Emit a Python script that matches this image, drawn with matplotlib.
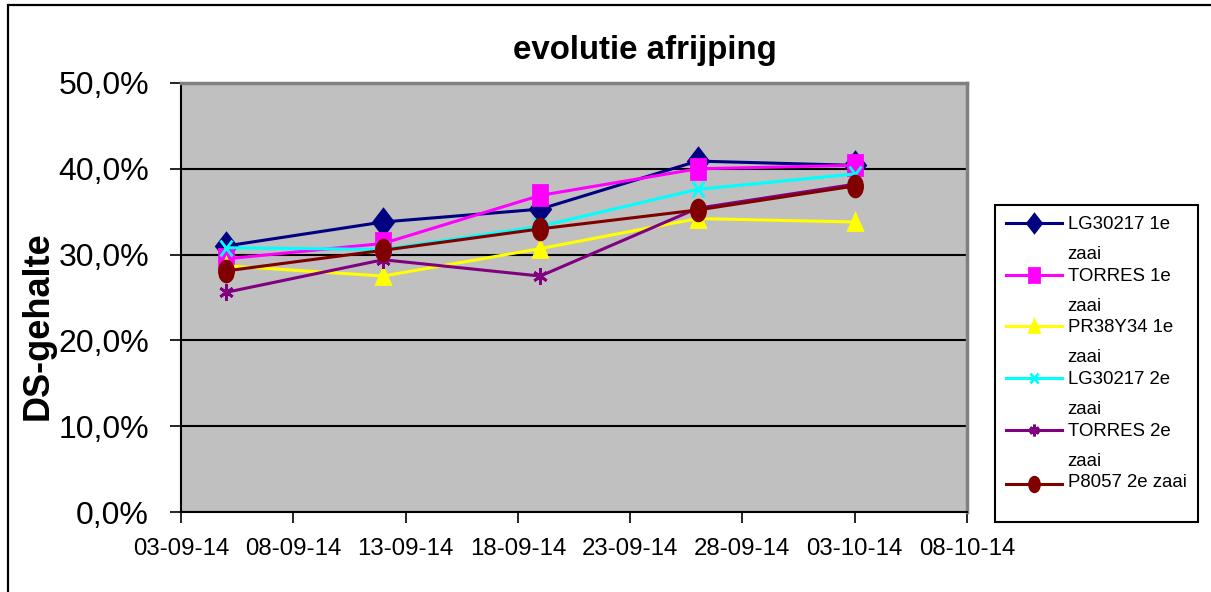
import numpy as np
import pandas as pd
import matplotlib
matplotlib.use("Agg")
import matplotlib.pyplot as plt
import matplotlib.dates as mdates
from matplotlib.ticker import FuncFormatter, FixedLocator, MultipleLocator
from matplotlib.markers import MarkerStyle
from matplotlib.transforms import Affine2D
from matplotlib.legend_handler import HandlerLine2D
from matplotlib.patches import Rectangle

# sampling dates and dry matter content (%) per variety / sowing
dates = pd.to_datetime(["2014-09-05", "2014-09-12", "2014-09-19", "2014-09-26", "2014-10-03"])
lg30217_1 = [31.0, 33.8, 35.3, 40.9, 40.4]
torres_1 = [29.5, 31.3, 36.9, 40.0, 40.4]
pr38y34_1 = [28.7, 27.5, 30.7, 34.2, 33.8]
lg30217_2 = [30.8, 30.6, 33.3, 37.6, 39.4]
torres_2 = [25.6, 29.4, 27.5, 35.4, 38.2]
p8057_2 = [28.1, 30.5, 33.0, 35.2, 38.0]

labels = ["LG30217 1e\nzaai", "TORRES 1e\nzaai", "PR38Y34 1e\nzaai",
          "LG30217 2e\nzaai", "TORRES 2e\nzaai", "P8057 2e zaai\n"]
series = [lg30217_1, torres_1, pr38y34_1, lg30217_2, torres_2, p8057_2]
colors = ["#000080", "#FF00FF", "#FFFF00", "#00FFFF", "#800080", "#800000"]

x_start, x_end = pd.Timestamp("2014-09-03"), pd.Timestamp("2014-10-08")


class TopLineHandler(HandlerLine2D):
    """Legend key raised so it sits next to the first line of a wrapped label."""

    def __init__(self, dy, **kw):
        super().__init__(**kw)
        self.dy = dy

    def create_artists(self, *args, **kw):
        arts = super().create_artists(*args, **kw)
        for a in arts:
            a.set_ydata(np.asarray(a.get_ydata(), float) + self.dy)
        return arts


plt.rcParams["font.family"] = ["Liberation Sans", "DejaVu Sans"]

W, H = 1211, 592
fig = plt.figure(figsize=(W / 100, H / 100), dpi=100)
fig.patch.set_facecolor("white")

# outer chart frame (only top and left edges fall inside the image)
fig.add_artist(Rectangle((8 / W, -0.1), 1.2, 1.1 - 5 / H, transform=fig.transFigure,
                         fill=False, edgecolor="black", linewidth=1.6))

ax = fig.add_axes([181 / W, 1 - 512 / H, (967 - 181) / W, (512 - 83) / H])
ax.set_facecolor("#C0C0C0")

squeeze = Affine2D().scale(0.68, 1.0)
markers = [MarkerStyle("D", transform=Affine2D().scale(0.75, 1.0)),
           MarkerStyle("s", transform=squeeze),
           MarkerStyle("^", transform=Affine2D().scale(0.85, 1.0)),
           MarkerStyle("x", transform=Affine2D().scale(0.8, 1.0)),
           MarkerStyle((6, 2, 0), transform=Affine2D().scale(0.85, 1.0)),
           MarkerStyle("o", transform=squeeze)]
sizes = [13, 15, 12, 11, 12, 15]

handles = []
for vals, col, mk, ms, lab in zip(series, colors, markers, sizes, labels):
    ln, = ax.plot(dates, vals, color=col, linewidth=2.2, marker=mk, markersize=ms,
                  markerfacecolor=col, markeredgecolor=col, markeredgewidth=2.0,
                  label=lab, clip_on=False)
    handles.append(ln)

ax.set_xlim(x_start, x_end)
ax.set_ylim(0, 50)
ax.xaxis.set_major_locator(FixedLocator(mdates.date2num(pd.date_range(x_start, x_end, freq="5D"))))
ax.xaxis.set_major_formatter(mdates.DateFormatter("%d-%m-%y"))
ax.yaxis.set_major_locator(MultipleLocator(10))
ax.yaxis.set_major_formatter(FuncFormatter(lambda v, p: f"{v:.1f}%".replace(".", ",")))

ax.grid(axis="y", color="black", linewidth=1.5)
for s in ["left", "bottom"]:
    ax.spines[s].set_color("black")
    ax.spines[s].set_linewidth(1.5)
for s in ["top", "right"]:
    ax.spines[s].set_color("#808080")
    ax.spines[s].set_linewidth(2.5)

ax.tick_params(axis="y", direction="out", length=8, width=1.2, pad=15, labelsize=23)
ax.tick_params(axis="x", direction="out", length=8, width=1.2, pad=11, labelsize=17.3)

fig.text(645 / W, 1 - 50 / H, "evolutie afrijping", ha="center", va="center",
         fontsize=23.8, fontweight="bold")
fig.text(38 / W, 1 - 326 / H, "DS-gehalte", ha="center", va="center",
         rotation=90, fontsize=26, fontweight="bold")

hmap = {h: TopLineHandler(12.0) for h in handles[:-1]}
hmap[handles[-1]] = TopLineHandler(6.0)
leg = fig.legend(handles=handles, labels=labels, loc="upper left",
                 bbox_to_anchor=(995 / W, 1 - 205 / H), borderaxespad=0,
                 fontsize=13.4, numpoints=1, handlelength=3.0, handletextpad=0.3,
                 borderpad=0.6, labelspacing=0.25, fancybox=False, framealpha=1,
                 edgecolor="black", handler_map=hmap)
leg.get_frame().set_linewidth(1.5)
for h in leg.legend_handles:
    h.set_markersize(h.get_markersize() * 0.7)
texts = leg.get_texts()
for t in texts[:-1]:
    t.set_linespacing(2.0)
texts[-1].set_linespacing(1.2)

fig.savefig("out.png", dpi=100, facecolor="white")
